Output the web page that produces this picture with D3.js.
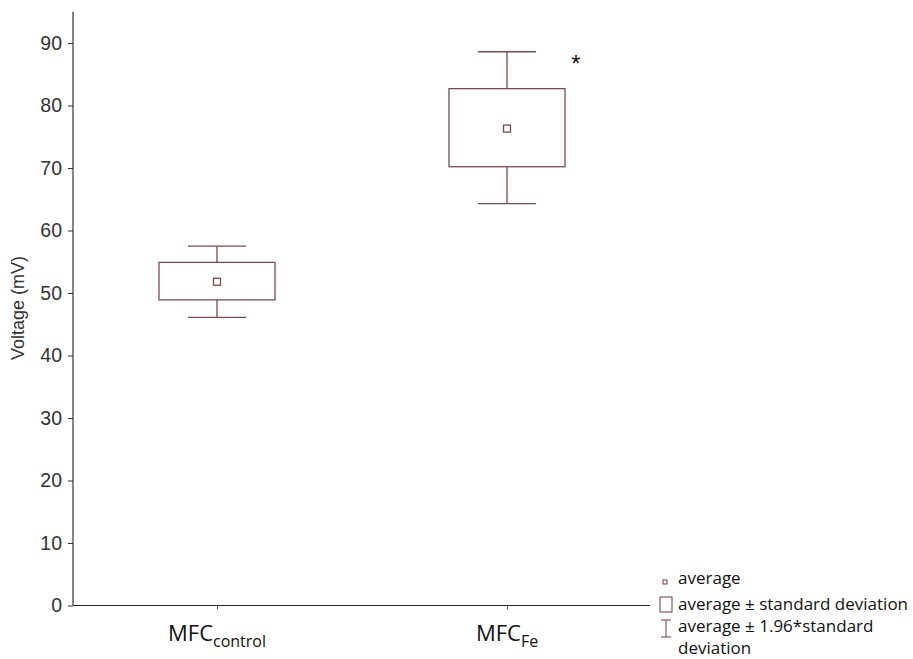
<!DOCTYPE html>
<html><head><meta charset="utf-8">
<script src="https://cdn.jsdelivr.net/npm/d3@7"></script>
<style>body{margin:0;background:#fff}</style>
</head><body><svg id="c" width="913" height="659"></svg>
<script>
const categories = ["control", "Fe"];
const means = [51.8, 76.3];
const sdLow = [48.9, 70.2];
const sdHigh = [54.9, 82.7];
const ciLow = [46.1, 64.3];
const ciHigh = [57.5, 88.6];
const yTicks = [0, 10, 20, 30, 40, 50, 60, 70, 80, 90];
const legendLabels = ["average", "average ± standard deviation", "average ± 1.96*standard", "deviation"];

const col = "#7b4b4b";
const svg = d3.select("#c");
const y = d3.scaleLinear().domain([0, 90]).range([605.5, 43]);
const x = d3.scalePoint().domain(categories).range([217, 507]);

// axes
const ya = svg.append("g").attr("transform", "translate(73,0)")
  .call(d3.axisLeft(y).tickValues(yTicks).tickSize(5).tickPadding(6));
ya.select(".domain").remove();
ya.attr("font-size", 19).attr("font-family", "Liberation Sans, Arial, sans-serif");
ya.selectAll("line").attr("stroke", "#333");
ya.selectAll("text").attr("fill", "#333").style("font-size", "19.5px");
svg.append("line").attr("x1", 73).attr("x2", 73).attr("y1", y(95)).attr("y2", 605.5).attr("stroke", "#333").attr("stroke-width", 1.2);

const xa = svg.append("g").attr("transform", "translate(0,605.5)")
  .call(d3.axisBottom(x).tickSize(4).tickFormat(""));
xa.select(".domain").remove();
xa.selectAll("line").attr("stroke", "#555");
svg.append("line").attr("x1", 73).attr("x2", 650).attr("y1", 605.5).attr("y2", 605.5).attr("stroke", "#222").attr("stroke-width", 1.2);

// category labels
categories.forEach(c => {
  const t = svg.append("text").attr("x", x(c)).attr("y", 641).attr("text-anchor", "middle")
    .attr("font-family", "Open Sans, Lato, sans-serif").style("font-size", "22px").attr("fill", "#111");
  t.append("tspan").text("MFC");
  t.append("tspan").style("font-size", "16px").attr("dy", 6).text(c);
});

svg.append("text").attr("transform", "translate(24,308) rotate(-90)").attr("text-anchor", "middle")
  .attr("font-family", "Liberation Sans, Arial, sans-serif").style("font-size", "18px").attr("fill", "#333").text("Voltage (mV)");

const boxW = 116, capW = 58;
const g = svg.append("g").attr("stroke", col).attr("fill", "none").attr("stroke-width", 1.3);
categories.forEach((c, i) => {
  const cx = x(c);
  g.append("line").attr("x1", cx).attr("x2", cx).attr("y1", y(ciHigh[i])).attr("y2", y(sdHigh[i]));
  g.append("line").attr("x1", cx).attr("x2", cx).attr("y1", y(sdLow[i])).attr("y2", y(ciLow[i]));
  g.append("line").attr("x1", cx - capW / 2).attr("x2", cx + capW / 2).attr("y1", y(ciHigh[i])).attr("y2", y(ciHigh[i]));
  g.append("line").attr("x1", cx - capW / 2).attr("x2", cx + capW / 2).attr("y1", y(ciLow[i])).attr("y2", y(ciLow[i]));
  g.append("rect").attr("x", cx - boxW / 2).attr("width", boxW).attr("y", y(sdHigh[i])).attr("height", y(sdLow[i]) - y(sdHigh[i]));
  g.append("rect").attr("x", cx - 3.5).attr("y", y(means[i]) - 3.5).attr("width", 7).attr("height", 7);
});

svg.append("text").attr("x", 576).attr("y", 72).attr("text-anchor", "middle")
  .attr("font-family", "Liberation Sans, Arial, sans-serif").style("font-size", "24px").attr("fill", "#111").text("*");

// legend
const lg = svg.append("g").attr("stroke", col).attr("fill", "none").attr("stroke-width", 1.1);
lg.append("rect").attr("x", 663).attr("y", 580).attr("width", 4).attr("height", 4);
lg.append("rect").attr("x", 660).attr("y", 597).attr("width", 12).attr("height", 15);
lg.append("line").attr("x1", 666).attr("x2", 666).attr("y1", 620).attr("y2", 637);
lg.append("line").attr("x1", 661).attr("x2", 671).attr("y1", 620).attr("y2", 620);
lg.append("line").attr("x1", 661).attr("x2", 671).attr("y1", 637).attr("y2", 637);
const ly = [584, 610, 632, 654];
legendLabels.forEach((l, i) => {
  svg.append("text").attr("x", 678).attr("y", ly[i]).attr("font-family", "Open Sans, Lato, sans-serif")
    .style("font-size", "17px").attr("fill", "#111").text(l);
});
</script></body></html>
